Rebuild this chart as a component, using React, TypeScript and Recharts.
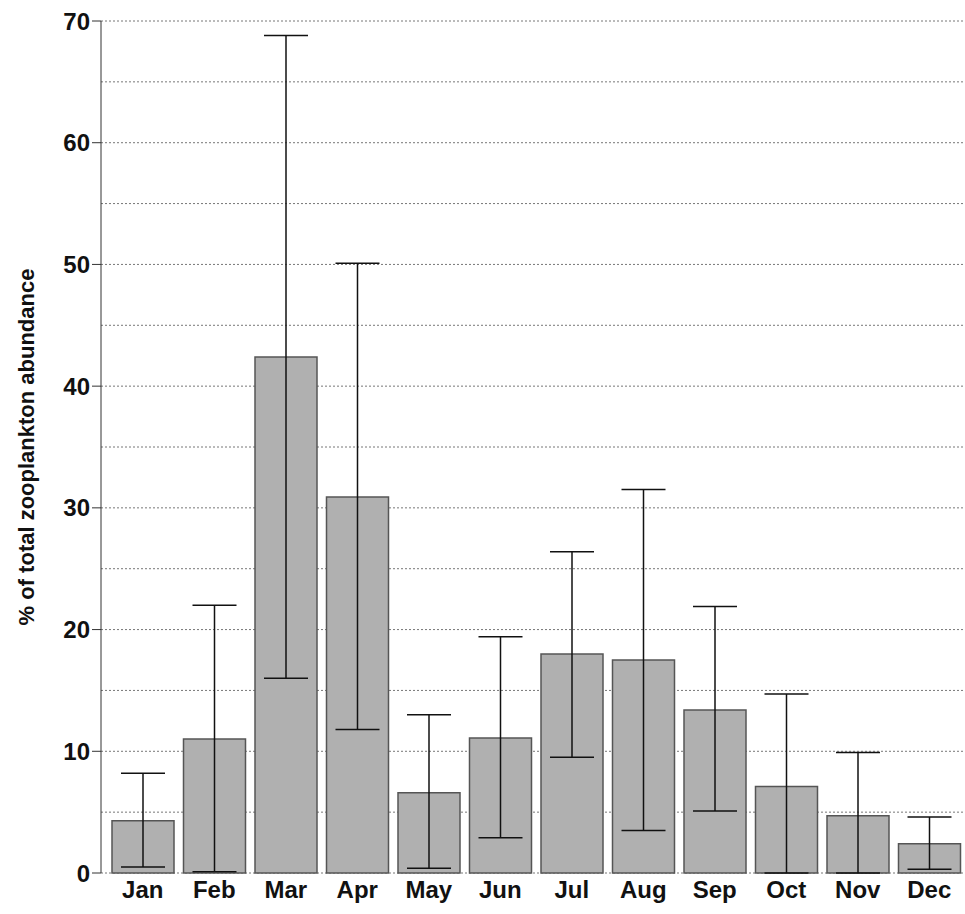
import { BarChart, Bar, XAxis, YAxis, CartesianGrid, ErrorBar } from 'recharts';

const months = ['Jan', 'Feb', 'Mar', 'Apr', 'May', 'Jun', 'Jul', 'Aug', 'Sep', 'Oct', 'Nov', 'Dec'];
const means = [4.3, 11, 42.4, 30.9, 6.6, 11.1, 18, 17.5, 13.4, 7.1, 4.7, 2.4];
const lows = [0.5, 0.1, 16, 11.8, 0.4, 2.9, 9.5, 3.5, 5.1, 0, 0, 0.3];
const highs = [8.2, 22, 68.8, 50.1, 13, 19.4, 26.4, 31.5, 21.9, 14.7, 9.9, 4.6];
const yTicks = [0, 10, 20, 30, 40, 50, 60, 70];
const gridTicks = [0, 5, 10, 15, 20, 25, 30, 35, 40, 45, 50, 55, 60, 65, 70];

const data = months.map((m, i) => ({
  name: m,
  value: means[i],
  err: [means[i] - lows[i], highs[i] - means[i]],
}));

const font = 'Arial, "Liberation Sans", sans-serif';

export default function App() {
  return (
    <div style={{ position: 'absolute', left: 0, top: 0, background: '#fff' }}>
      <BarChart width={965} height={914} data={data} margin={{ top: 21, right: 0, left: 41, bottom: 6 }} barCategoryGap={5}>
        <CartesianGrid vertical={false} horizontalValues={gridTicks} stroke="#777" strokeDasharray="2 2" />
        <XAxis dataKey="name" axisLine={false} tickLine={false} height={35} fontSize={24} fontWeight="bold" fontFamily={font}
          padding={{ left: 6, right: 0 }} tick={{ fill: '#111' }} interval={0} />
        <YAxis domain={[0, 70]} ticks={yTicks} width={60} stroke="#333" tickSize={9} fontSize={24} fontWeight="bold" fontFamily={font}
          tick={{ fill: '#111' }}
          label={{ value: '% of total zooplankton abundance', angle: -90, position: 'insideLeft', dx: -20, style: { textAnchor: 'middle', fontSize: 22, fontWeight: 'bold', fill: '#111', fontFamily: font } }} />
        <Bar dataKey="value" fill="#b0b0b0" stroke="#555" strokeWidth={1.5} isAnimationActive={false}>
          <ErrorBar dataKey="err" width={22} stroke="#111" strokeWidth={1.5} />
        </Bar>
      </BarChart>
    </div>
  );
}
